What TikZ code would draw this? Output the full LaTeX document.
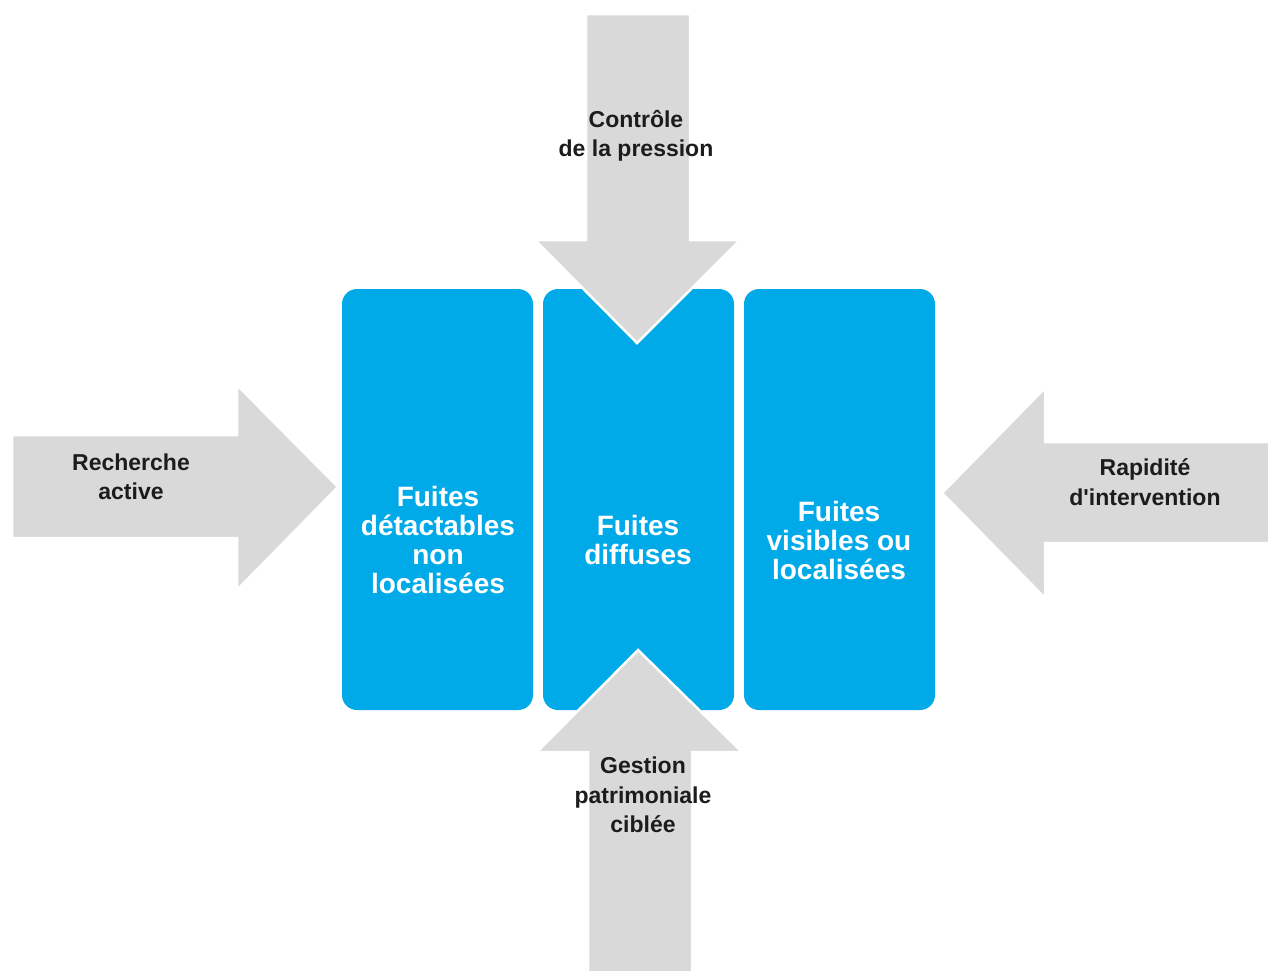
\documentclass[tikz,border=0pt]{standalone}
\usepackage{fontspec}
\setmainfont{Liberation Sans}
\begin{document}
\begin{tikzpicture}[x=1pt,y=-1pt,
  leakbox/.style={fill=leakblue, rounded corners=15pt},
  bigarrow/.style={fill=arrowgray, draw=white, line width=2.5pt, line join=miter},
  boxtext/.style={text=white, font=\bfseries\fontsize{28}{29}\selectfont, align=center},
  actiontext/.style={text=labeldark, font=\bfseries\fontsize{23}{29.5}\selectfont, align=center}]
\definecolor{leakblue}{HTML}{00AAE9}
\definecolor{arrowgray}{HTML}{D9D9D9}
\definecolor{labeldark}{HTML}{1C1C1C}
\useasboundingbox (0,0) rectangle (1268,970);
\clip (0,0) rectangle (1268,970);

% three leak categories
\path[leakbox] (342,289) rectangle (533,710);
\path[leakbox] (543,289) rectangle (734,710);
\path[leakbox] (744,289) rectangle (935,710);

% four action levers pointing at the boxes
\draw[bigarrow] (586,14) -- (690,14) -- (690,240) -- (740,240) -- (637,343)
  -- (535,240) -- (586,240) -- cycle;
\draw[bigarrow] (588,980) -- (588,752) -- (537,752) -- (638,650) -- (742,752)
  -- (692,752) -- (692,980) -- cycle;
\draw[bigarrow] (12,435) -- (237,435) -- (237,385) -- (338,487) -- (237,590)
  -- (237,538) -- (12,538) -- cycle;
\draw[bigarrow] (1275,442) -- (1045,442) -- (1045,388) -- (942,493) -- (1045,598)
  -- (1045,543) -- (1275,543) -- cycle;

% box labels
\node[boxtext] (detect) at (438,540) {Fuites\\détactables\\non\\localisées};
\node[boxtext] (diffuse) at (638,540) {Fuites\\diffuses};
\node[boxtext] (visible) at (839,540) {Fuites\\visibles ou\\localisées};

% lever labels
\node[actiontext] (pressure) at (636,136) {Contrôle\\de la pression};
\node[actiontext] (search) at (131,477) {Recherche\\active};
\node[actiontext] (speed) at (1145,482) {Rapidité\\d\textquotesingle intervention};
\node[actiontext] (assets) at (643,795) {Gestion\\patrimoniale\\ciblée};
\end{tikzpicture}
\end{document}
